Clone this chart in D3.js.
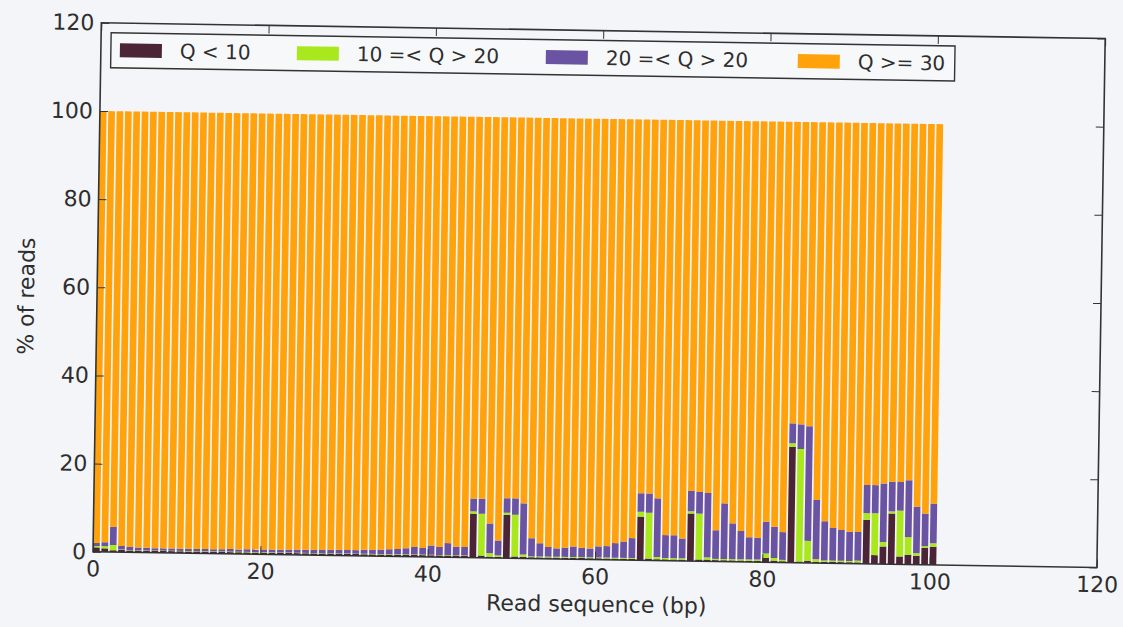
<!DOCTYPE html>
<html>
<head>
<meta charset="utf-8">
<script src="https://cdn.jsdelivr.net/npm/d3@7"></script>
<style>
  body { margin: 0; background: #f4f5f8; }
  svg { display: block; }
  text { font-family: "DejaVu Sans", sans-serif; fill: #2e2e2e; }
</style>
</head>
<body>
<div id="chart"></div>
<script>
// read positions (bp), one bar each
const positions = d3.range(0, 101);

// % of reads per quality band
const qBelow10 = [1.0, 0.8, 0.4, 0.5, 0.4, 0.4, 0.4, 0.4, 0.4, 0.4,
  0.4, 0.4, 0.4, 0.4, 0.4, 0.4, 0.4, 0.4, 0.4, 0.4,
  0.4, 0.4, 0.4, 0.4, 0.4, 0.4, 0.4, 0.4, 0.4, 0.4,
  0.4, 0.4, 0.4, 0.4, 0.4, 0.4, 0.4, 0.4, 0.4, 0.4,
  0.4, 0.4, 0.4, 0.4, 0.4, 10.0, 0.5, 0.3, 0.3, 9.8,
  0.4, 0.4, 0.3, 0.3, 0.3, 0.3, 0.3, 0.3, 0.3, 0.3,
  0.3, 0.3, 0.3, 0.3, 0.3, 9.9, 0.4, 0.3, 0.3, 0.3,
  0.3, 10.8, 0.4, 0.4, 0.3, 0.3, 0.3, 0.3, 0.3, 0.3,
  1.0, 0.4, 0.3, 26.3, 0.3, 0.5, 0.3, 0.3, 0.3, 0.3,
  0.3, 0.3, 10.0, 2.0, 4.0, 11.5, 1.8, 2.2, 2.0, 3.8,
  4.1];
const q10to20 = [0.3, 0.5, 1.2, 0.1, 0.1, 0.1, 0.1, 0.1, 0.1, 0.1,
  0.1, 0.1, 0.1, 0.1, 0.1, 0.1, 0.1, 0.1, 0.1, 0.1,
  0.1, 0.1, 0.1, 0.1, 0.1, 0.1, 0.1, 0.1, 0.1, 0.1,
  0.1, 0.1, 0.1, 0.1, 0.1, 0.1, 0.1, 0.1, 0.1, 0.1,
  0.1, 0.1, 0.1, 0.1, 0.1, 0.5, 9.5, 0.8, 0.3, 0.5,
  9.5, 0.5, 0.2, 0.2, 0.2, 0.2, 0.2, 0.2, 0.2, 0.2,
  0.2, 0.2, 0.2, 0.2, 0.2, 1.1, 10.4, 0.5, 0.3, 0.3,
  0.3, 0.5, 10.4, 0.5, 0.3, 0.3, 0.3, 0.3, 0.3, 0.3,
  1.0, 0.6, 0.3, 0.8, 25.5, 4.5, 0.6, 0.3, 0.3, 0.3,
  0.3, 0.4, 1.5, 9.5, 1.0, 0.5, 10.4, 4.0, 0.6, 0.4,
  0.8];
const q20to30 = [0.7, 0.9, 4.1, 0.8, 0.7, 0.6, 0.6, 0.5, 0.5, 0.5,
  0.5, 0.5, 0.5, 0.5, 0.5, 0.5, 0.6, 0.5, 0.6, 0.6,
  0.6, 0.6, 0.6, 0.6, 0.7, 0.7, 0.7, 0.7, 0.8, 0.8,
  0.8, 0.8, 0.9, 0.9, 1.0, 1.1, 1.2, 1.4, 1.7, 1.5,
  2.1, 1.8, 2.7, 1.9, 1.9, 2.9, 3.4, 6.7, 3.4, 3.3,
  3.7, 11.6, 4.1, 3.0, 2.2, 1.9, 2.1, 2.4, 2.1, 2.0,
  2.5, 2.6, 3.3, 3.7, 4.5, 4.2, 4.4, 13.3, 5.2, 5.2,
  4.5, 4.6, 4.9, 14.6, 6.5, 12.6, 8.1, 6.4, 5.0, 4.9,
  7.2, 7.1, 6.3, 4.5, 5.6, 26.0, 13.4, 8.9, 7.4, 7.0,
  6.6, 6.5, 6.4, 6.4, 13.3, 6.7, 6.5, 12.9, 10.5, 7.4,
  9.0];

const seriesKeys = ["q10", "q20", "q30", "q30plus"];
const seriesNames = ["Q < 10", "10 =< Q > 20", "20 =< Q > 20", "Q >= 30"];
const seriesColors = ["#4b2536", "#a9e81c", "#6a53a2", "#ffa20c"];
const xTicks = [0, 20, 40, 60, 80, 100, 120];
const yTicks = [0, 20, 40, 60, 80, 100, 120];

// every bar sums to 100 %, Q >= 30 fills the rest
const rows = positions.map((p, i) => ({
  pos: p,
  q10: qBelow10[i],
  q20: q10to20[i],
  q30: q20to30[i],
  q30plus: 100 - qBelow10[i] - q10to20[i] - q20to30[i],
}));

const width = 1123, height = 627;
const plotLeft = 93, plotRight = 1097, plotTop = 22.7, plotBottom = 551.7;

const svg = d3.select("#chart").append("svg")
  .attr("width", width)
  .attr("height", height);

svg.append("rect").attr("width", width).attr("height", height).attr("fill", "#f4f5f8");

// the printout was photographed slightly tilted
const g = svg.append("g").attr("transform", `rotate(0.9, ${plotLeft}, ${plotBottom})`);

const x = d3.scaleLinear().domain([0, 120]).range([plotLeft, plotRight]);
const y = d3.scaleLinear().domain([0, 120]).range([plotBottom, plotTop]);

const stacked = d3.stack().keys(seriesKeys)(rows);

g.selectAll(".layer")
  .data(stacked)
  .enter()
  .append("g")
  .attr("class", "layer")
  .attr("fill", (d, i) => seriesColors[i])
  .selectAll("rect")
  .data((d) => d)
  .enter()
  .append("rect")
  .attr("x", (d) => x(d.data.pos))
  .attr("width", x(0.8) - x(0))
  .attr("y", (d) => y(d[1]))
  .attr("height", (d) => y(d[0]) - y(d[1]));

// axes, ticks pointing inward like matplotlib
const tickLen = 8;
const xAxis = g.append("g").attr("transform", `translate(0,${plotBottom})`)
  .call(d3.axisBottom(x).tickValues(xTicks).tickSize(-tickLen).tickPadding(9));
const yAxis = g.append("g").attr("transform", `translate(${plotLeft},0)`)
  .call(d3.axisLeft(y).tickValues(yTicks).tickSize(-tickLen).tickPadding(7));
const xTop = g.append("g").attr("transform", `translate(0,${plotTop})`)
  .call(d3.axisTop(x).tickValues(xTicks).tickSize(-tickLen).tickFormat(""));
const yRight = g.append("g").attr("transform", `translate(${plotRight},0)`)
  .call(d3.axisRight(y).tickValues(yTicks).tickSize(-tickLen).tickFormat(""));

[xAxis, yAxis, xTop, yRight].forEach((a) => {
  a.select(".domain").remove();
  a.selectAll(".tick line").attr("stroke", "#333").attr("stroke-width", 1);
  a.selectAll(".tick text").attr("font-size", 22).attr("fill", "#2e2e2e")
    .attr("font-family", "DejaVu Sans, sans-serif");
});

g.append("rect")
  .attr("x", plotLeft).attr("y", plotTop)
  .attr("width", plotRight - plotLeft).attr("height", plotBottom - plotTop)
  .attr("fill", "none").attr("stroke", "#333").attr("stroke-width", 1.6);

// legend
const legend = g.append("g");
legend.append("rect")
  .attr("x", 103).attr("y", 32.5)
  .attr("width", 844).attr("height", 35)
  .attr("fill", "#f7f8fa").attr("stroke", "#333").attr("stroke-width", 1.4);
const legendX = [112, 289, 538, 790];
seriesNames.forEach((name, i) => {
  legend.append("rect")
    .attr("x", legendX[i]).attr("y", 43)
    .attr("width", 42).attr("height", 14)
    .attr("fill", seriesColors[i]);
  legend.append("text")
    .attr("x", legendX[i] + 60).attr("y", 57)
    .attr("font-size", 20)
    .text(name);
});

g.append("text")
  .attr("x", (plotLeft + plotRight) / 2 + 2).attr("y", 604)
  .attr("text-anchor", "middle")
  .attr("font-size", 22)
  .text("Read sequence (bp)");

g.append("text")
  .attr("transform", `translate(30,${(plotTop + plotBottom) / 2 + 10}) rotate(-90)`)
  .attr("text-anchor", "middle")
  .attr("font-size", 22)
  .text("% of reads");
</script>
</body>
</html>
